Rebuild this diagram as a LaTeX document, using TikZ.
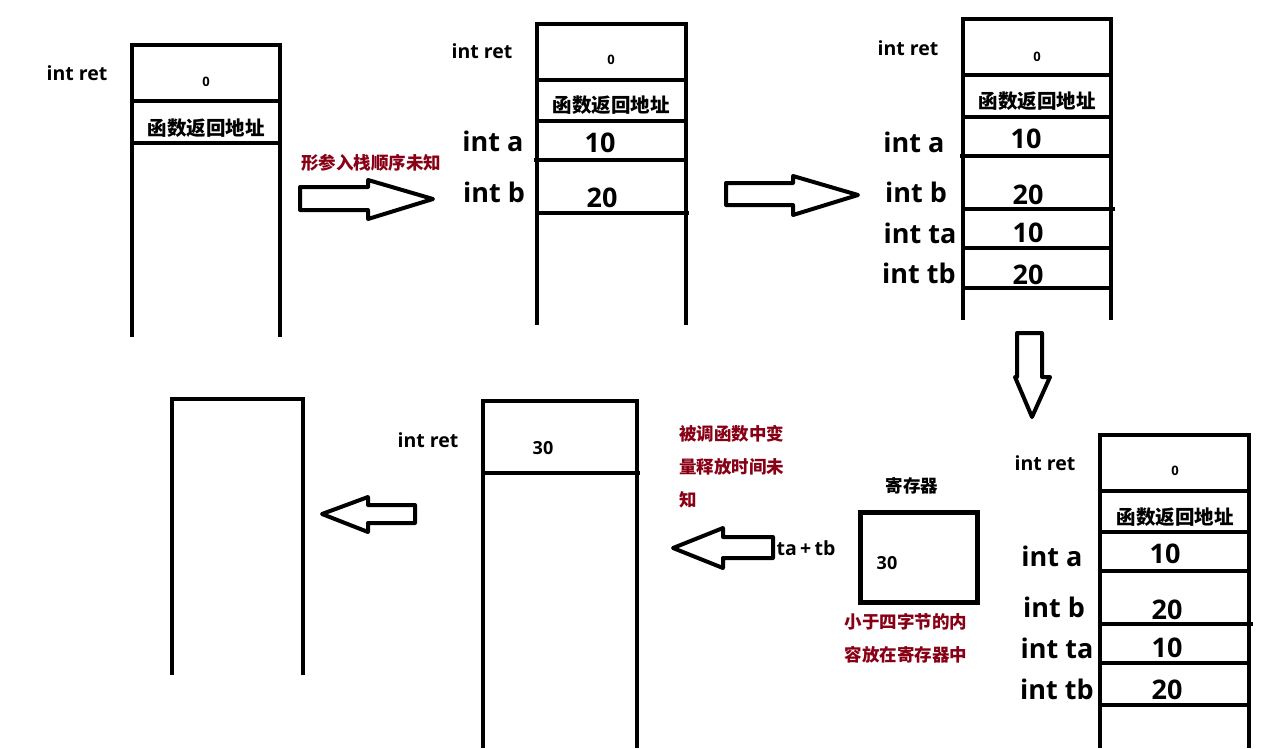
\documentclass[tikz,border=0pt]{standalone}
\usepackage{fontspec}
\setmainfont{Open Sans}
\newfontfamily\cjk{Noto Sans CJK SC}
\definecolor{dred}{HTML}{880015}
\begin{document}
\begin{tikzpicture}[x=1pt,y=-1pt,
  wall/.style={line width=4pt},
  blockarrow/.style={line width=4pt, line join=round},
  lab/.style={font=\bfseries\fontsize{19.5}{20}\selectfont, inner sep=0pt},
  big/.style={font=\bfseries\fontsize{27}{28}\selectfont, inner sep=0pt},
  zero/.style={font=\bfseries\fontsize{13}{14}\selectfont, inner sep=0pt},
  mid/.style={font=\bfseries\fontsize{18}{20}\selectfont, inner sep=0pt},
  cjkt/.style={font=\cjk\bfseries\fontsize{19.5}{20}\selectfont, inner sep=0pt},
  note/.style={font=\cjk\bfseries\fontsize{17.5}{33}\selectfont, text=dred, inner sep=0pt, align=left}]
\useasboundingbox (0,0) rectangle (1275,748);

% ---------- stack 1
\draw[wall] (132,337) -- (132,45) -- (280,45) -- (280,337);
\draw[wall] (132,101) -- (282,101);
\draw[wall] (132,143) -- (280,143);
\node[lab] (s1ret) at (77,73) {int ret};
\node[zero] (s1v0) at (206,82) {0};
\node[cjkt] (s1addr) at (206,128) {函数返回地址};

% arrow 1
\node[note] (n1) at (371,163) {形参入栈顺序未知};
\draw[blockarrow] (300,187) -- (368,187) -- (368,180) -- (433,199) -- (368,219) -- (368,210) -- (300,210) -- cycle;

% ---------- stack 2
\draw[wall] (537,325) -- (537,24) -- (686,24) -- (686,325);
\draw[wall] (537,80) -- (688,80);
\draw[wall] (537,121) -- (686,121);
\draw[wall] (534,160) -- (688,160);
\draw[wall] (537,213) -- (689,213);
\node[lab] (s2ret) at (482,51) {int ret};
\node[zero] (s2v0) at (611,60) {0};
\node[cjkt] (s2addr) at (611,105) {函数返回地址};
\node[big] (s2a) at (493,141) {int a};
\node[big] (s2b) at (494,192) {int b};
\node[big] (s2va) at (600,143) {10};
\node[big] (s2vb) at (602,198) {20};

% arrow 2
\draw[blockarrow] (726,183) -- (793,183) -- (793,176) -- (858,195) -- (793,215) -- (793,205) -- (726,205) -- cycle;

% ---------- stack 3
\draw[wall] (963,320) -- (963,19) -- (1111,19) -- (1111,320);
\draw[wall] (963,75) -- (1113,75);
\draw[wall] (963,117) -- (1111,117);
\draw[wall] (960,156) -- (1113,156);
\draw[wall] (963,209) -- (1115,209);
\draw[wall] (963,248) -- (1111,248);
\draw[wall] (963,288) -- (1111,288);
\node[lab] (s3ret) at (908,48) {int ret};
\node[zero] (s3v0) at (1037,57) {0};
\node[cjkt] (s3addr) at (1037,101) {函数返回地址};
\node[big] (s3a) at (914,142) {int a};
\node[big] (s3b) at (916,192) {int b};
\node[big] (s3ta) at (920,233) {int ta};
\node[big] (s3tb) at (919,273) {int tb};
\node[big] (s3va) at (1026,139) {10};
\node[big] (s3vb) at (1028,195) {20};
\node[big] (s3vta) at (1028,233) {10};
\node[big] (s3vtb) at (1028,275) {20};

% down arrow
\draw[blockarrow] (1017,333) -- (1042,333) -- (1042,377) -- (1050,377) -- (1032,417) -- (1015,377) -- (1017,377) -- cycle;

% ---------- stack 4
\draw[wall] (1100,748) -- (1100,435) -- (1249,435) -- (1249,748);
\draw[wall] (1100,491) -- (1251,491);
\draw[wall] (1100,532) -- (1249,532);
\draw[wall] (1098,571) -- (1251,571);
\draw[wall] (1100,624) -- (1253,624);
\draw[wall] (1100,663) -- (1249,663);
\draw[wall] (1100,705) -- (1249,705);
\node[lab] (s4ret) at (1045,463) {int ret};
\node[zero] (s4v0) at (1175,471) {0};
\node[cjkt] (s4addr) at (1175,517) {函数返回地址};
\node[big] (s4a) at (1052,556) {int a};
\node[big] (s4b) at (1054,607) {int b};
\node[big] (s4ta) at (1057,648) {int ta};
\node[big] (s4tb) at (1057,689) {int tb};
\node[big] (s4va) at (1165,554) {10};
\node[big] (s4vb) at (1167,610) {20};
\node[big] (s4vta) at (1167,648) {10};
\node[big] (s4vtb) at (1167,690) {20};

% ---------- register
\draw[line width=5pt] (860,512) rectangle (977,602);
\node[cjkt, font=\cjk\bfseries\fontsize{17.5}{20}\selectfont] (reg) at (912,486) {寄存器};
\node[mid] (regv) at (887,563) {30};
\node[note, align=center, anchor=north] (n3) at (906,613) {小于四字节的内\\容放在寄存器中};

% arrow 3
\node[mid, font=\bfseries\fontsize{19.5}{20}\selectfont] (tatb) at (806,548) {ta\,+\,tb};
\draw[blockarrow] (773,537) -- (723,537) -- (723,528) -- (673,548) -- (723,568) -- (723,558) -- (773,558) -- cycle;
\node[note, anchor=north west] (n2) at (679,425) {被调函数中变\\量释放时间未\\知};

% ---------- stack 5
\draw[wall] (483,748) -- (483,401) -- (637,401) -- (637,748);
\draw[wall] (483,473) -- (640,473);
\node[lab] (s5ret) at (428,440) {int ret};
\node[mid] (s5v) at (543,448) {30};

% arrow 4
\draw[blockarrow] (415,505) -- (368,505) -- (368,497) -- (322,514) -- (368,532) -- (368,523) -- (415,523) -- cycle;

% ---------- stack 6
\draw[wall] (172,675) -- (172,399) -- (303,399) -- (303,675);
\end{tikzpicture}
\end{document}
